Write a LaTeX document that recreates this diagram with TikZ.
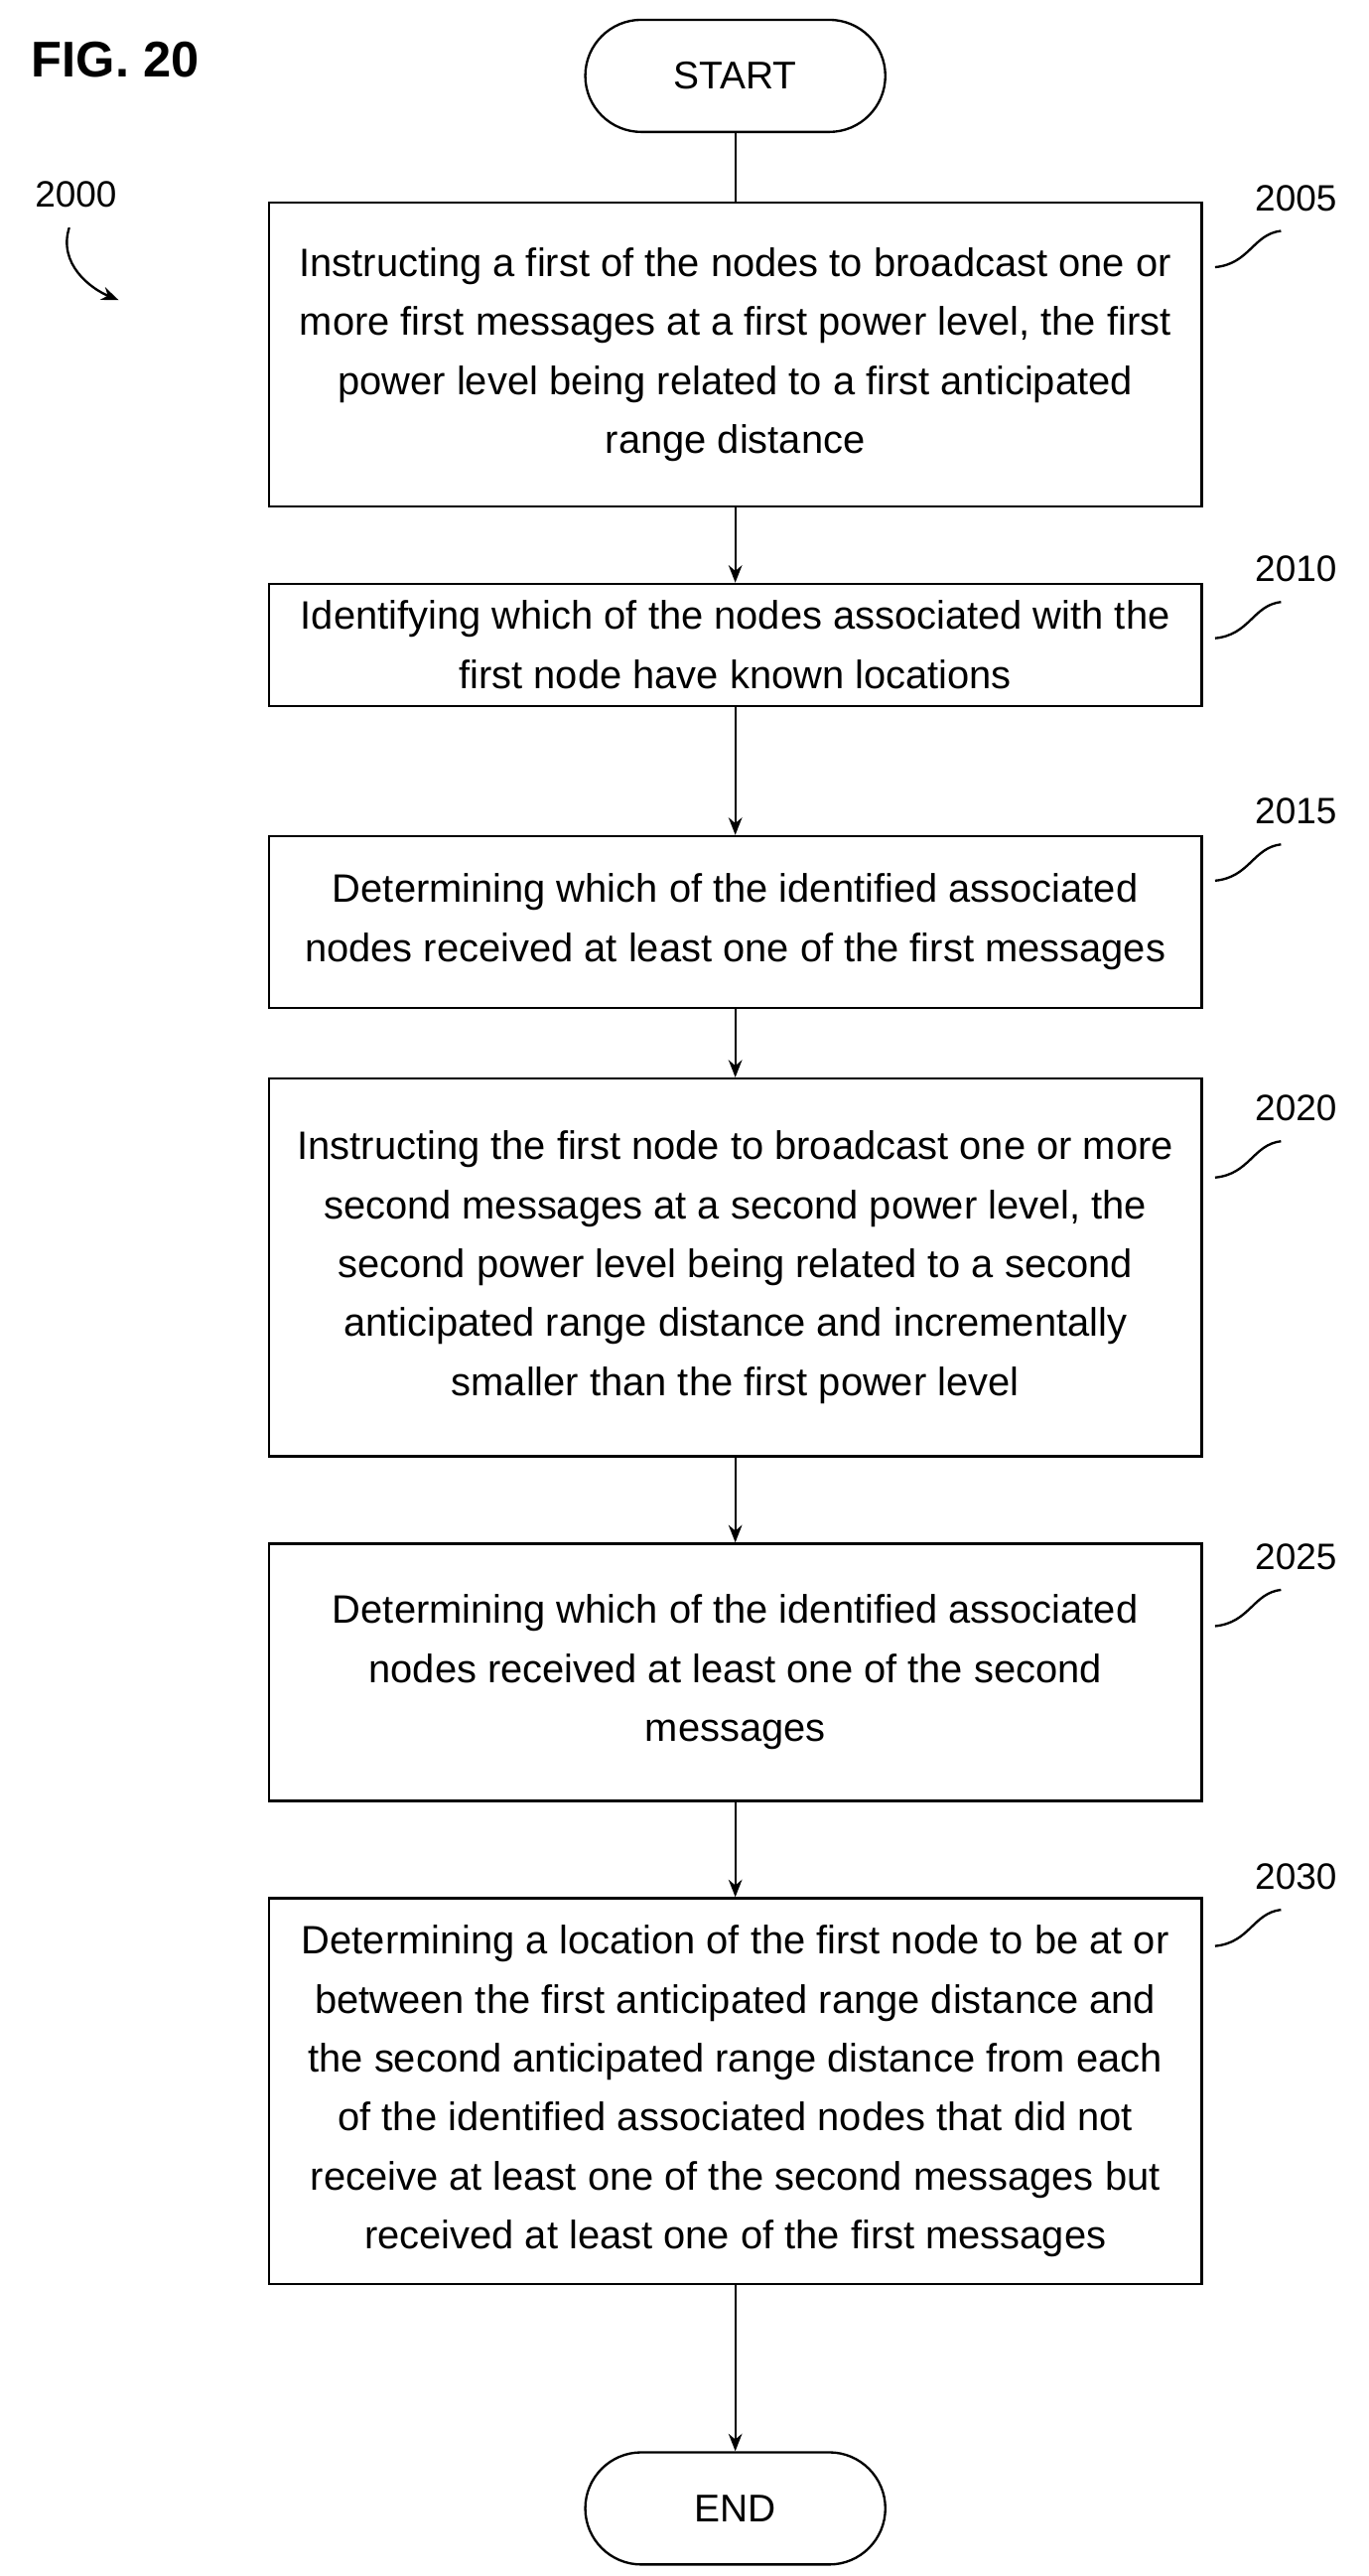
\documentclass[tikz,border=0pt]{standalone}
\usepackage{fontspec}
\setmainfont{Liberation Sans}
\usetikzlibrary{arrows.meta}
\begin{document}
\begin{tikzpicture}[x=0.03cm,y=-0.03cm,
  box/.style={draw,line width=1.2pt,minimum width=566*0.03cm,align=center,font=\fontsize{20.5}{30.5}\selectfont,inner sep=0pt},
  term/.style={draw,line width=1.2pt,rounded corners=34*0.03cm,minimum width=182*0.03cm,minimum height=68*0.03cm,font=\fontsize{20}{23}\selectfont},
  arr/.style={line width=1.2pt,-{Stealth[length=9pt,width=7pt]}},
  lbl/.style={font=\fontsize{19}{23}\selectfont},
  sq/.style={line width=1.2pt}]
\useasboundingbox (0,0) rectangle (830,1562);
\node[font=\bfseries\fontsize{26}{30}\selectfont] (fig) at (70,36) {FIG. 20};
\node[term] (start) at (446,46) {START};
\node[box,minimum height=184*0.03cm] (b1) at (446,215) {Instructing a first of the nodes to broadcast one or\\more first messages at a first power level, the first\\power level being related to a first anticipated\\range distance};
\node[box,minimum height=74*0.03cm] (b2) at (446,391) {Identifying which of the nodes associated with the\\first node have known locations};
\node[box,minimum height=104*0.03cm] (b3) at (446,559) {Determining which of the identified associated\\nodes received at least one of the first messages};
\node[box,minimum height=229*0.03cm] (b4) at (446,768.5) {Instructing the first node to broadcast one or more\\second messages at a second power level, the\\second power level being related to a second\\anticipated range distance and incrementally\\smaller than the first power level};
\node[box,minimum height=156*0.03cm] (b5) at (446,1014) {Determining which of the identified associated\\nodes received at least one of the second\\messages};
\node[box,minimum height=234*0.03cm] (b6) at (446,1268) {Determining a location of the first node to be at or\\between the first anticipated range distance and\\the second anticipated range distance from each\\of the identified associated nodes that did not\\receive at least one of the second messages but\\received at least one of the first messages};
\node[term] (end) at (446,1521) {END};
\draw[line width=1.2pt] (start) -- (b1);
\draw[arr] (b1) -- (b2);
\draw[arr] (b2) -- (b3);
\draw[arr] (b3) -- (b4);
\draw[arr] (b4) -- (b5);
\draw[arr] (b5) -- (b6);
\draw[arr] (b6) -- (end);
\node[lbl] (l0) at (46,118) {2000};
\coordinate (a0) at (72,182);
\draw[line width=1.2pt,-{Stealth[length=9pt,width=7pt]}] (42,138) .. controls (35,160) and (55,175) .. (a0);
\foreach \n/\t/\y in {l1/2005/120,l2/2010/345,l3/2015/492,l4/2020/672,l5/2025/944,l6/2030/1138}{
  \node[lbl] (\n) at (786,\y) {\t};
  \draw[sq] (777,\y+20) .. controls (760,\y+22) and (758,\y+40) .. (737,\y+42);
}
\end{tikzpicture}
\end{document}
